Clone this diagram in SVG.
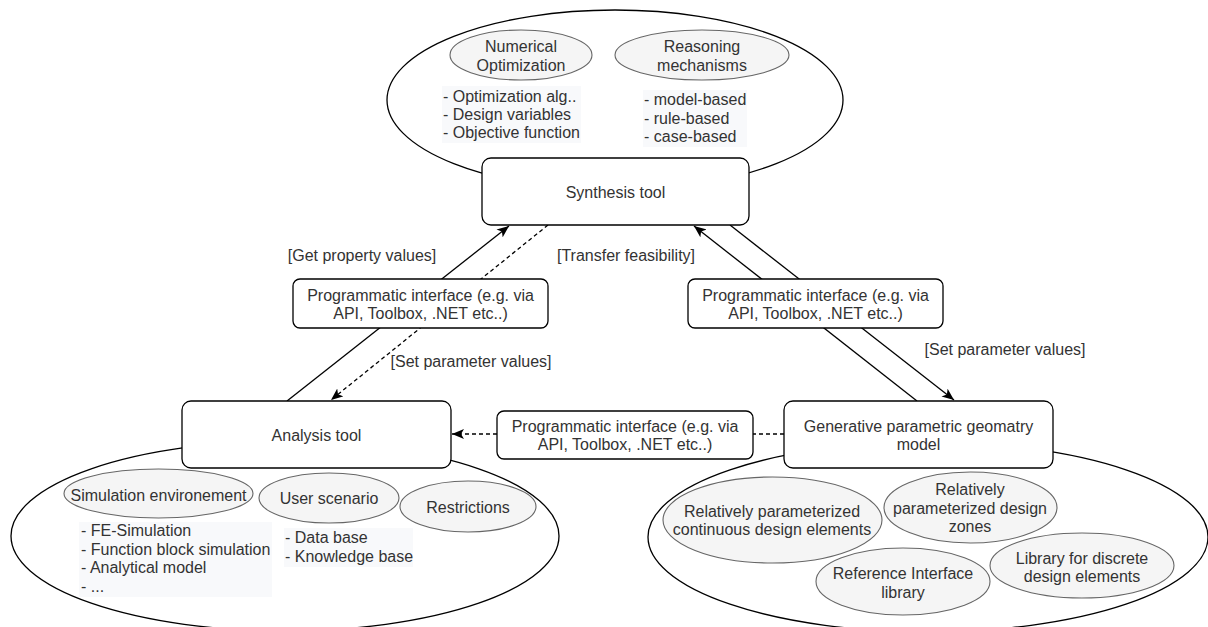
<svg xmlns="http://www.w3.org/2000/svg" width="1208" height="627" viewBox="0 0 1208 627">
  <defs>
    <marker id="arrow" markerUnits="userSpaceOnUse" viewBox="0 0 12 10" refX="12" refY="5" markerWidth="12" markerHeight="10" orient="auto">
      <path d="M0,0 L12,5 L0,10 L3,5 Z" fill="#000"/>
    </marker>
    <style>
      text { font-family: "Liberation Sans", Arial, Helvetica, sans-serif; font-size: 16px; fill: #333; }
      .c { text-anchor: middle; }
      .area { fill: #fff; stroke: #000; stroke-width: 1.3; }
      .tool { fill: #fff; stroke: #000; stroke-width: 1.3; }
      .iface { fill: #fff; stroke: #000; stroke-width: 1.3; }
      .topic { fill: #f5f5f5; stroke: #666; stroke-width: 1.1; }
      .listbg { fill: #f8f9fb; }
      .edge { fill: none; stroke: #000; stroke-width: 1.3; }
      .dash { stroke-dasharray: 4 3; }
    </style>
  </defs>

  <rect width="1208" height="627" fill="#fff"/>

  <!-- large areas behind the tools -->
  <g id="synthesis-area">
    <ellipse class="area" cx="615" cy="100" rx="228" ry="90"/>
  </g>
  <g id="analysis-area">
    <ellipse class="area" cx="285" cy="536" rx="274" ry="95"/>
  </g>
  <g id="geometry-area">
    <ellipse class="area" cx="928" cy="537" rx="280" ry="95"/>
  </g>

  <!-- connectors -->
  <g id="connectors">
    <line class="edge" x1="287" y1="401" x2="509" y2="226" marker-end="url(#arrow)"/>
    <line class="edge dash" x1="548" y1="225" x2="331" y2="400" marker-end="url(#arrow)"/>
    <line class="edge" x1="917" y1="401" x2="694" y2="226" marker-end="url(#arrow)"/>
    <line class="edge" x1="730" y1="225" x2="954" y2="400" marker-end="url(#arrow)"/>
    <line class="edge dash" x1="497" y1="434" x2="452" y2="434" marker-end="url(#arrow)"/>
    <line class="edge dash" x1="784" y1="434" x2="753" y2="434"/>
  </g>

  <!-- edge labels -->
  <g id="edge-labels">
    <text class="c" x="362" y="261">[Get property values]</text>
    <text class="c" x="626" y="261">[Transfer feasibility]</text>
    <text class="c" x="471" y="366.5">[Set parameter values]</text>
    <text class="c" x="1005" y="355">[Set parameter values]</text>
  </g>

  <!-- synthesis tool -->
  <g id="synthesis-tool">
    <rect class="tool" x="482" y="158" width="267" height="67" rx="9"/>
    <text class="c" x="615.5" y="198">Synthesis tool</text>
  </g>

  <g id="numerical-optimization">
    <ellipse class="topic" cx="521" cy="55" rx="71" ry="25"/>
    <text class="c" x="521" y="52">Numerical</text>
    <text class="c" x="521" y="70.5">Optimization</text>
  </g>
  <g id="optimization-list">
    <rect class="listbg" x="442" y="86" width="139" height="57"/>
    <text x="443" y="102">- Optimization alg..</text>
    <text x="443" y="120">- Design variables</text>
    <text x="443" y="138">- Objective function</text>
  </g>

  <g id="reasoning-mechanisms">
    <ellipse class="topic" cx="702" cy="55" rx="87" ry="25"/>
    <text class="c" x="702" y="52">Reasoning</text>
    <text class="c" x="702" y="70.5">mechanisms</text>
  </g>
  <g id="reasoning-list">
    <rect class="listbg" x="643" y="90" width="104" height="57"/>
    <text x="644" y="105">- model-based</text>
    <text x="644" y="123.5">- rule-based</text>
    <text x="644" y="142">- case-based</text>
  </g>

  <!-- programmatic interfaces -->
  <g id="interface-analysis">
    <rect class="iface" x="293" y="279" width="255" height="49" rx="7"/>
    <text class="c" x="420.5" y="300.5">Programmatic interface (e.g. via</text>
    <text class="c" x="420.5" y="319">API, Toolbox, .NET etc..)</text>
  </g>
  <g id="interface-geometry">
    <rect class="iface" x="688" y="279" width="255" height="49" rx="7"/>
    <text class="c" x="815.5" y="300.5">Programmatic interface (e.g. via</text>
    <text class="c" x="815.5" y="319">API, Toolbox, .NET etc..)</text>
  </g>
  <g id="interface-exchange">
    <rect class="iface" x="497" y="411" width="256" height="48" rx="7"/>
    <text class="c" x="625" y="431.5">Programmatic interface (e.g. via</text>
    <text class="c" x="625" y="450">API, Toolbox, .NET etc..)</text>
  </g>

  <!-- analysis tool -->
  <g id="analysis-tool">
    <rect class="tool" x="182" y="401" width="269" height="67" rx="9"/>
    <text class="c" x="316.5" y="441">Analysis tool</text>
  </g>
  <g id="simulation-environment">
    <ellipse class="topic" cx="158.5" cy="493.5" rx="94.5" ry="24.5"/>
    <text class="c" x="158.5" y="500.5">Simulation environement</text>
  </g>
  <g id="user-scenario">
    <ellipse class="topic" cx="329" cy="498" rx="70" ry="25"/>
    <text class="c" x="329" y="504">User scenario</text>
  </g>
  <g id="restrictions">
    <ellipse class="topic" cx="468" cy="506.5" rx="68" ry="25.5"/>
    <text class="c" x="468" y="513">Restrictions</text>
  </g>
  <g id="simulation-list">
    <rect class="listbg" x="79" y="522" width="193" height="75"/>
    <text x="81" y="536">- FE-Simulation</text>
    <text x="81" y="554.5">- Function block simulation</text>
    <text x="81" y="573">- Analytical model</text>
    <text x="81" y="591.5">- ...</text>
  </g>
  <g id="scenario-list">
    <rect class="listbg" x="284" y="528" width="129" height="39"/>
    <text x="285" y="543">- Data base</text>
    <text x="285" y="562">- Knowledge base</text>
  </g>

  <!-- generative parametric geometry model -->
  <g id="geometry-model">
    <rect class="tool" x="784" y="401" width="269" height="67" rx="9"/>
    <text class="c" x="918.5" y="431.5">Generative parametric geomatry</text>
    <text class="c" x="918.5" y="450">model</text>
  </g>
  <g id="continuous-elements">
    <ellipse class="topic" cx="772.5" cy="520" rx="109.5" ry="43"/>
    <text class="c" x="772" y="516.5">Relatively parameterized</text>
    <text class="c" x="772" y="535">continuous design elements</text>
  </g>
  <g id="design-zones">
    <ellipse class="topic" cx="970.5" cy="507.5" rx="86.5" ry="35.5"/>
    <text class="c" x="970" y="495">Relatively</text>
    <text class="c" x="970" y="513.5">parameterized design</text>
    <text class="c" x="970" y="532">zones</text>
  </g>
  <g id="reference-interface">
    <ellipse class="topic" cx="903" cy="581.5" rx="87" ry="33.5"/>
    <text class="c" x="903" y="579">Reference Interface</text>
    <text class="c" x="903" y="597.5">library</text>
  </g>
  <g id="discrete-elements">
    <ellipse class="topic" cx="1082" cy="565.5" rx="92" ry="32.5"/>
    <text class="c" x="1082" y="564">Library for discrete</text>
    <text class="c" x="1082" y="582">design elements</text>
  </g>
</svg>
